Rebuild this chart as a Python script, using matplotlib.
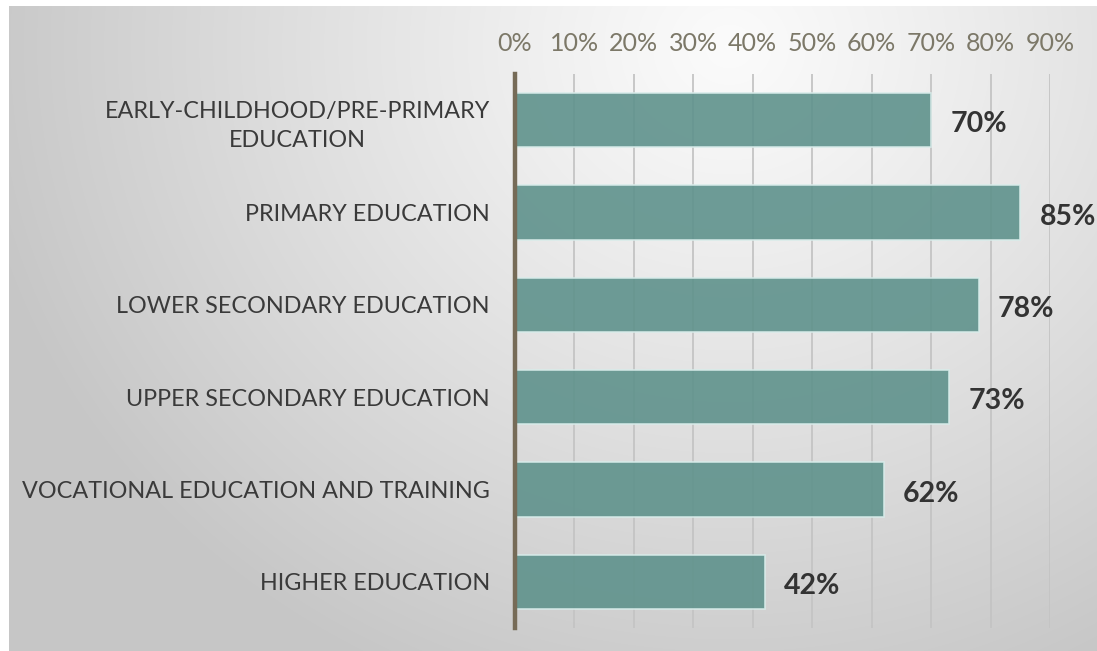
import numpy as np
import matplotlib
matplotlib.use("Agg")
import matplotlib.pyplot as plt
from matplotlib.ticker import FixedLocator, FuncFormatter

categories = ["EARLY-CHILDHOOD/PRE-PRIMARY\nEDUCATION", "PRIMARY EDUCATION",
              "LOWER SECONDARY EDUCATION", "UPPER SECONDARY EDUCATION",
              "VOCATIONAL EDUCATION AND TRAINING", "HIGHER EDUCATION"]
values = [0.70, 0.85, 0.78, 0.73, 0.62, 0.42]
xticks = [0.0, 0.1, 0.2, 0.3, 0.4, 0.5, 0.6, 0.7, 0.8, 0.9]

W, H = 1097, 651
fig = plt.figure(figsize=(W / 100, H / 100), dpi=100)
fig.patch.set_facecolor("white")

# gradient background
bg = fig.add_axes([9 / W, 0, 1 - 9 / W, 1 - 6 / H])
bg.set_axis_off()
yy, xx = np.mgrid[0:645, 0:1088]
d = np.sqrt((xx - 720) ** 2 + ((yy - 40) * 1.1) ** 2)
t = np.clip(d / 760, 0, 1)
val = 0.985 - (0.985 - 0.78) * t ** 1.1
img = np.dstack([val, val, val])
bg.imshow(img, aspect="auto", extent=[0, 1, 0, 1], origin="upper")
bg.set_xlim(0, 1)
bg.set_ylim(0, 1)

left, right, top, bottom = 515, 1050, 74, 628
ax = fig.add_axes([left / W, 1 - bottom / H, (right - left) / W, (bottom - top) / H])
ax.patch.set_alpha(0)
y = np.arange(len(categories))
ax.barh(y, values, height=0.585, color="#5f928c", alpha=0.9,
        edgecolor="#d8ecea", linewidth=1.2, zorder=2)
ax.set_xlim(0, 0.9)
ax.set_ylim(len(categories) - 0.5, -0.5)
ax.xaxis.set_major_locator(FixedLocator(xticks))
ax.xaxis.set_major_formatter(FuncFormatter(lambda v, p: f"{v*100:.0f}%"))
ax.xaxis.tick_top()
ax.tick_params(axis="x", length=0, pad=14, labelsize=18, labelcolor="#7c7868")
ax.set_yticks(y)
ax.set_yticklabels(categories, fontsize=16.8, color="#3a3a3a", ha="right",
                   multialignment="center", linespacing=1.45)
ax.tick_params(axis="y", length=0, pad=18)
for lab in ax.get_xticklabels() + ax.get_yticklabels():
    lab.set_fontfamily(["Lato", "DejaVu Sans"])
ax.grid(axis="x", color="#c4c4c4", linewidth=1.3, zorder=0)
ax.set_axisbelow(True)
for s in ["top", "right", "bottom"]:
    ax.spines[s].set_visible(False)
ax.spines["left"].set_color("#766b57")
ax.spines["left"].set_linewidth(3.2)
ax.spines["left"].set_zorder(3)

for yi, v in zip(y, values):
    ax.annotate(f"{v*100:.0f}%", (v, yi), xytext=(14, -3), textcoords="offset points",
                ha="left", va="center", fontsize=20.5, fontweight="bold",
                color="#333333", family=["Lato", "DejaVu Sans"])

fig.savefig("out.png", dpi=100)
